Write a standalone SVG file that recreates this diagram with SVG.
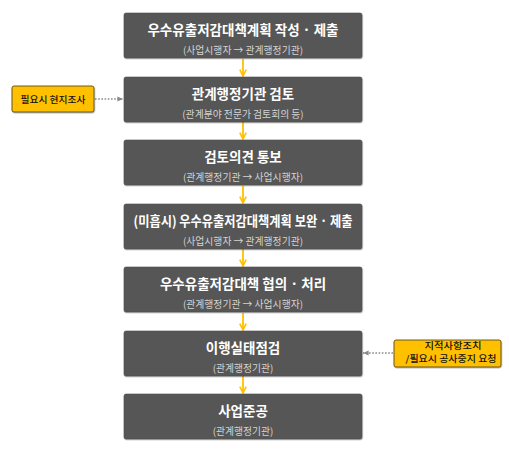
<svg xmlns="http://www.w3.org/2000/svg" width="509" height="453" viewBox="0 0 509 453">
<style>
.box{fill:#565656;stroke:#4a4a4a;stroke-width:0.6}
.t{font-family:"Noto Sans CJK KR","Noto Sans",sans-serif;font-weight:700;font-size:13.5px;fill:#ffffff;text-anchor:middle}
.s{font-family:"Noto Sans CJK KR","Noto Sans",sans-serif;font-size:9.8px;fill:#d4d4d4;text-anchor:middle}
.note{fill:#ffc000;stroke:#5a4a1a;stroke-width:0.9}
.n{font-family:"Noto Sans CJK KR","Noto Sans",sans-serif;font-weight:500;font-size:9.5px;fill:#111111;text-anchor:middle}
.n2{font-family:"Noto Sans CJK KR","Noto Sans",sans-serif;font-weight:500;font-size:9px;fill:#111111;text-anchor:middle}
.flow{stroke:#ffc000;stroke-width:1.8;fill:none}
.dot{stroke:#8a8a8a;stroke-width:1.6;stroke-dasharray:1.6 1.6;fill:none}
</style>
<defs>
<filter id="sh" x="-5%" y="-10%" width="110%" height="130%">
<feDropShadow dx="0.5" dy="1" stdDeviation="0.7" flood-color="#000" flood-opacity="0.3"/>
</filter>
<marker id="ya" viewBox="0 0 10 10" refX="9" refY="5" markerWidth="8" markerHeight="8" markerUnits="userSpaceOnUse" orient="auto">
<path d="M1,1 L9,5 L1,9" fill="none" stroke="#ffc000" stroke-width="2"/>
</marker>
<marker id="ga" viewBox="0 0 10 10" refX="9" refY="5" markerWidth="7" markerHeight="7" markerUnits="userSpaceOnUse" orient="auto">
<path d="M1,1.5 L9,5 L1,8.5 Z" fill="#8a8a8a"/>
</marker>
</defs>
<rect width="509" height="453" fill="#ffffff"/>
<g id="connectors">
<line class="flow" x1="243" y1="59" x2="243" y2="76" marker-end="url(#ya)"/>
<line class="flow" x1="243" y1="122" x2="243" y2="139" marker-end="url(#ya)"/>
<line class="flow" x1="243" y1="186" x2="243" y2="203" marker-end="url(#ya)"/>
<line class="flow" x1="243" y1="249" x2="243" y2="266" marker-end="url(#ya)"/>
<line class="flow" x1="243" y1="313" x2="243" y2="330" marker-end="url(#ya)"/>
<line class="flow" x1="243" y1="376" x2="243" y2="393" marker-end="url(#ya)"/>
<line class="dot" x1="95" y1="99" x2="123" y2="99" marker-end="url(#ga)"/>
<line class="dot" x1="393" y1="353" x2="363" y2="353" marker-end="url(#ga)"/>
</g>
<g id="n1">
<rect class="box" x="124" y="13" width="238" height="45" rx="2" filter="url(#sh)"/>
<text class="t" x="243" y="34.5">우수유출저감대책계획 작성 · 제출</text>
<text class="s" x="243" y="53.5">(사업시행자 → 관계행정기관)</text>
</g>
<g id="n2">
<rect class="box" x="124" y="77" width="238" height="45" rx="2" filter="url(#sh)"/>
<text class="t" x="243" y="98.5">관계행정기관 검토</text>
<text class="s" x="243" y="117.5">(관계분야 전문가 검토회의 등)</text>
</g>
<g id="n3">
<rect class="box" x="124" y="140" width="238" height="45" rx="2" filter="url(#sh)"/>
<text class="t" x="243" y="161.5">검토의견 통보</text>
<text class="s" x="243" y="180.5">(관계행정기관 → 사업시행자)</text>
</g>
<g id="n4">
<rect class="box" x="124" y="204" width="238" height="45" rx="2" filter="url(#sh)"/>
<text class="t" x="243" y="225.5" textLength="219" lengthAdjust="spacingAndGlyphs">(미흡시) 우수유출저감대책계획 보완 · 제출</text>
<text class="s" x="243" y="244.5">(사업시행자 → 관계행정기관)</text>
</g>
<g id="n5">
<rect class="box" x="124" y="267" width="238" height="45" rx="2" filter="url(#sh)"/>
<text class="t" x="243" y="288.5">우수유출저감대책 협의 · 처리</text>
<text class="s" x="243" y="307.5">(관계행정기관 → 사업시행자)</text>
</g>
<g id="n6">
<rect class="box" x="124" y="331" width="238" height="45" rx="2" filter="url(#sh)"/>
<text class="t" x="243" y="352.5">이행실태점검</text>
<text class="s" x="243" y="371.5">(관계행정기관)</text>
</g>
<g id="n7">
<rect class="box" x="124" y="394" width="238" height="45" rx="2" filter="url(#sh)"/>
<text class="t" x="243" y="415.5">사업준공</text>
<text class="s" x="243" y="434.5">(관계행정기관)</text>
</g>
<g id="note-left">
<rect class="note" x="12" y="86" width="82" height="26" rx="2" filter="url(#sh)"/>
<text class="n" x="53" y="102.5" textLength="65" lengthAdjust="spacingAndGlyphs">필요시 현지조사</text>
</g>
<g id="note-right">
<rect class="note" x="394" y="340" width="107" height="27" rx="2" filter="url(#sh)"/>
<text class="n2" x="453" y="349" textLength="57" lengthAdjust="spacingAndGlyphs">지적사항조치</text>
<text class="n2" x="451" y="362" textLength="91" lengthAdjust="spacingAndGlyphs">/필요시 공사중지 요청</text>
</g>
</svg>
